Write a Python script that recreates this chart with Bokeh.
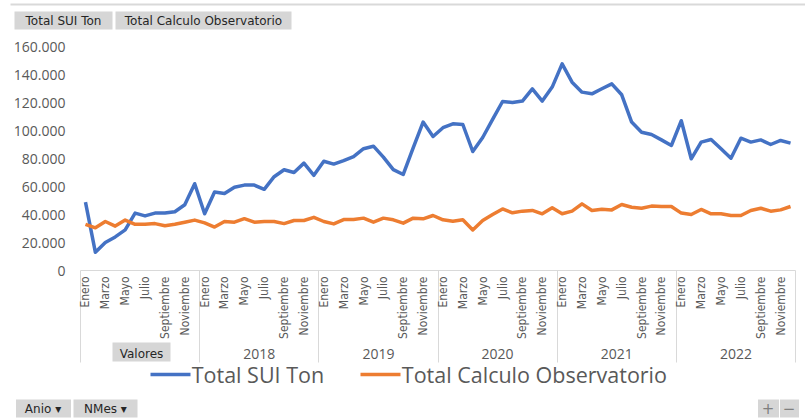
import math
import numpy as np
from bokeh.plotting import figure
from bokeh.models import Range1d, LinearAxis, FixedTicker
from bokeh.embed import file_html
from bokeh.resources import INLINE

years = [2017, 2018, 2019, 2020, 2021, 2022]
months = ["Enero", "Febrero", "Marzo", "Abril", "Mayo", "Junio", "Julio",
          "Agosto", "Septiembre", "Octubre", "Noviembre", "Diciembre"]

sui_2017 = [48800, 13000, 20000, 24000, 29000, 41000, 39000, 41000, 41000, 42000, 47000, 62000]
sui_2018 = [40500, 56000, 55000, 59500, 61000, 61000, 58000, 67000, 72000, 70000, 76700, 68000]
sui_2019 = [78000, 76000, 78500, 81400, 87000, 88800, 81000, 72000, 68600, 87600, 106000, 95700]
sui_2020 = [102000, 104800, 104300, 85000, 95000, 108000, 120700, 120000, 121000, 129800, 121000, 131000]
sui_2021 = [147600, 134500, 127400, 126200, 129800, 133300, 125500, 106000, 98800, 97100, 93300, 89300]
sui_2022 = [107000, 79800, 91700, 93600, 86900, 80200, 94500, 91700, 93300, 90000, 92900, 91000]

obs_2017 = [33000, 30500, 35000, 31700, 36000, 33000, 33000, 33500, 32000, 33000, 34500, 36000]
obs_2018 = [34000, 31000, 35000, 34500, 37000, 34500, 35000, 35000, 33500, 35700, 35700, 38000]
obs_2019 = [35000, 33300, 36400, 36400, 37400, 34500, 37400, 36200, 33800, 37400, 36900, 39300]
obs_2020 = [36200, 35200, 36200, 29000, 35700, 40000, 44000, 41200, 42400, 42900, 40500, 44800]
obs_2021 = [40500, 42400, 47600, 42900, 43800, 43300, 47100, 45200, 44500, 46000, 45700, 45700]
obs_2022 = [41000, 40000, 43600, 40500, 40500, 39300, 39300, 42900, 44500, 42400, 43300, 45700]

y_ticks = [0, 20000, 40000, 60000, 80000, 100000, 120000, 140000, 160000]
series_names = ["Total SUI Ton", "Total Calculo Observatorio"]
series_colors = ["#4472C4", "#ED7D31"]
value_button = "Valores"
filter_buttons = ["Anio \u25BE", "NMes \u25BE"]
zoom_buttons = ["+", "\u2212"]

sui = sui_2017 + sui_2018 + sui_2019 + sui_2020 + sui_2021 + sui_2022
obs = obs_2017 + obs_2018 + obs_2019 + obs_2020 + obs_2021 + obs_2022
n = len(sui)
x = np.arange(n) + 0.5

TXT = "#595959"
BTN_FILL = "#d6d6d6"
BTN_TXT = "#262626"

# ---- layout (canvas px) ----
W, H = 805, 419
PLOT_L, PLOT_R = 80, 795          # where the category axis starts / ends
FRAME_L = 10                       # frame extended to the left so the buttons can sit on it
FRAME_T, FRAME_B = 46, 270
PX_PER = (PLOT_R - PLOT_L) / n

def px(cx):
    """canvas x pixel -> data x (only for placing decorations)"""
    return round((cx - PLOT_L) / PX_PER, 4)

p = figure(width=W, height=H, output_backend="svg", toolbar_location=None,
           x_range=Range1d(px(FRAME_L), px(W)), y_range=Range1d(0, 160000),
           min_border_left=FRAME_L, min_border_right=0, min_border_top=FRAME_T,
           min_border_bottom=H - FRAME_B)
p.outline_line_color = None
p.xgrid.visible = False
p.ygrid.visible = False
p.background_fill_color = "white"
p.border_fill_color = "white"

p.line(x, sui, line_color=series_colors[0], line_width=3.5, line_join="round")
p.line(x, obs, line_color=series_colors[1], line_width=3.5, line_join="round")

# y axis (labels pushed right so they sit where Excel puts them)
ya = p.yaxis[0]
ya.ticker = FixedTicker(ticks=y_ticks, minor_ticks=[])
ya.major_label_overrides = {t: f"{t:,}".replace(",", ".") for t in y_ticks}
ya.axis_line_color = None
ya.major_tick_line_color = None
ya.minor_tick_line_color = None
ya.major_tick_out = 0
ya.major_tick_in = 0
ya.minor_tick_out = 0
ya.minor_tick_in = 0
ya.major_label_text_font = "Open Sans"
ya.major_label_text_font_size = "14px"
ya.major_label_text_color = TXT
ya.major_label_standoff = -(65 - FRAME_L)

# month axis (its minor ticks draw the year separators)
SEP = 92
xa = p.xaxis[0]
xa.ticker = FixedTicker(ticks=[i + 0.5 for i in range(0, n, 2)],
                        minor_ticks=[12 * k for k in range(len(years) + 1)])
xa.bounds = (0, n)
xa.major_label_overrides = {i + 0.5: months[i % 12] for i in range(0, n, 2)}
xa.major_label_orientation = math.pi / 2
xa.major_label_text_font = "DejaVu Sans Condensed"
xa.major_label_text_font_size = "12px"
xa.major_label_text_color = TXT
xa.major_tick_out = 0
xa.major_tick_in = 0
xa.major_tick_line_color = None
xa.minor_tick_in = 0
xa.minor_tick_out = SEP
xa.major_label_standoff = 6 - SEP
xa.minor_tick_line_color = "#d9d9d9"
xa.axis_line_color = "#d9d9d9"


def make_axis(ticks=(), minor=(), labels=None, font="DejaVu Sans", size="12px", color=BTN_TXT,
              standoff=0, line_color=None, line_width=1, bounds="auto",
              maj_in=0, maj_out=0, maj_w=1, maj_color=None,
              min_in=0, min_out=0, min_w=1, min_color=None):
    ticks = list(ticks)
    ax = LinearAxis(ticker=FixedTicker(ticks=ticks, minor_ticks=list(minor)))
    ax.axis_line_color = line_color
    ax.axis_line_width = line_width
    ax.bounds = bounds
    ax.major_tick_in, ax.major_tick_out = maj_in, maj_out
    ax.major_tick_line_width, ax.major_tick_line_color = maj_w, maj_color
    ax.minor_tick_in, ax.minor_tick_out = min_in, min_out
    ax.minor_tick_line_width, ax.minor_tick_line_color = min_w, min_color
    if labels is None:
        ax.major_label_overrides = {t: "" for t in ticks}
        ax.major_label_text_font_size = "0px"
        ax.major_label_text_color = None
    else:
        ax.major_label_overrides = dict(zip(ticks, labels))
        ax.major_label_text_font = font
        ax.major_label_text_font_size = size
        ax.major_label_text_color = color
    ax.major_label_standoff = standoff
    return ax

def spacer(k):
    # an invisible tick gives the panel slot a fixed height of k px
    return make_axis([n / 2], maj_out=k)

# year axis
year_ticks = [12 * k + 6 for k in range(len(years))]
p.add_layout(make_axis(year_ticks, labels=[str(v) for v in years], font="Open Sans",
                       size="14px", color=TXT, standoff=7), "below")

# "Valores" field button: box drawn by a wide tick, text by a second axis
val_x = px(141)
p.add_layout(make_axis([val_x], maj_in=19, maj_w=58, maj_color=BTN_FILL), "below")
p.add_layout(make_axis([val_x], labels=[value_button], standoff=-15), "below")

# series legend: spacer, two sample lines (bounded axis rules), label texts
p.add_layout(spacer(11), "below")
p.add_layout(make_axis(line_color=series_colors[0], line_width=3.5, bounds=(px(150), px(190))), "below")
p.add_layout(make_axis(line_color=series_colors[1], line_width=3.5, bounds=(px(360), px(400))), "below")
p.add_layout(make_axis([px(257.4), px(533.9)], labels=series_names, font="Open Sans",
                       size="21.5px", color=TXT, standoff=-15), "below")

# filter / zoom buttons at the bottom
p.add_layout(spacer(26), "below")
p.add_layout(make_axis([px(42.5)], [px(105)], maj_in=18, maj_w=55, maj_color=BTN_FILL,
                       min_in=18, min_w=64, min_color=BTN_FILL), "below")
p.add_layout(make_axis([px(767.5)], [px(788.5)], maj_in=18, maj_w=21, maj_color=BTN_FILL,
                       min_in=18, min_w=19, min_color=BTN_FILL), "below")
p.add_layout(make_axis([px(42.5), px(105)], labels=filter_buttons, standoff=-16), "below")
p.add_layout(make_axis([px(767.5), px(788.5)], labels=zoom_buttons, size="15px",
                       color="#7f7f7f", standoff=-17), "below")

# series field buttons at the top (above panel grows upward from the frame)
top_c = [px(63), px(203)]
p.add_layout(spacer(35), "above")
p.add_layout(make_axis([top_c[0]], [top_c[1]], maj_in=18, maj_w=98, maj_color=BTN_FILL,
                       min_in=18, min_w=176, min_color=BTN_FILL), "above")
p.add_layout(make_axis(top_c, labels=series_names, standoff=-16), "above")
# faint chart-area border line at the very top
p.add_layout(spacer(6), "above")
p.add_layout(make_axis(line_color="#d9d9d9", line_width=2), "above")

open("out.html", "w").write(file_html(p, INLINE))
